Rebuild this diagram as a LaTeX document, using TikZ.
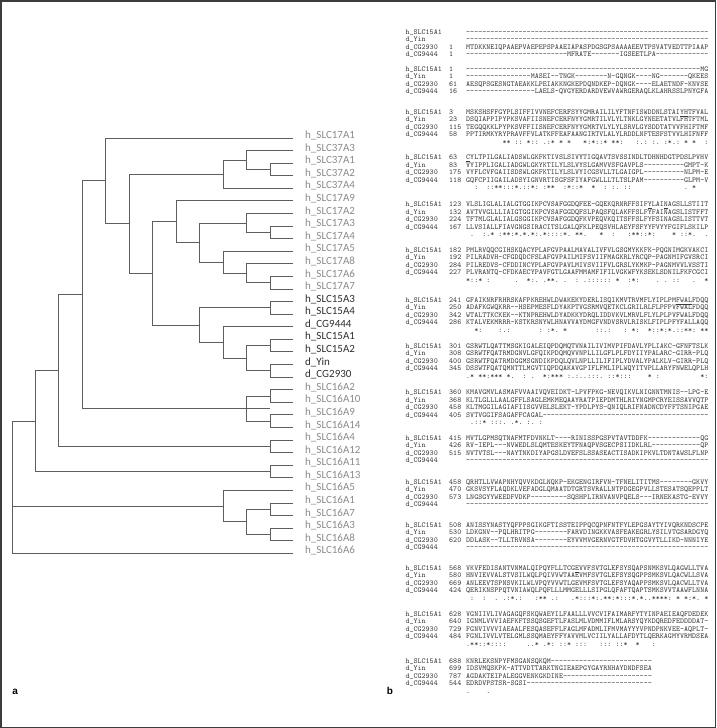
\documentclass[tikz,border=0pt]{standalone}
\usepackage{fontspec}
\newfontfamily\labfont{Carlito}
\newfontfamily\panfont{Liberation Sans}
\ExplSyntaxOn
\cs_new:Npn \dsh #1 {\prg_replicate:nn{#1}{-}}
\ExplSyntaxOff
\definecolor{framec}{HTML}{3C3C3C}
\definecolor{brc}{HTML}{5E5E5E}
\definecolor{labgray}{HTML}{8A8A8A}
\definecolor{labdark}{HTML}{2E2E2E}
\definecolor{seqc}{HTML}{3A3A3A}
\tikzset{
 br/.style={draw=brc, line width=0.9pt},
 lg/.style={anchor=base west, inner sep=0pt, font=\labfont\fontsize{11}{12}\selectfont, text=labgray},
 ld/.style={lg, text=labdark},
 nm/.style={anchor=base west, inner sep=0pt, font=\fontsize{7.6}{8}\ttfamily, text=seqc},
 sq/.style={anchor=base west, inner sep=0pt, font=\fontsize{7.6}{8}\ttfamily, text=seqc},
 pan/.style={anchor=base west, inner sep=0pt, font=\panfont\bfseries\fontsize{10}{12}\selectfont, text=black},
}
\newcommand\arow[6]{%
 \node[nm] (#1n) at (405.3,#2) {#3};
 \node[nm] (#1i) at (#4,#2) {#5};
 \node[sq] (#1s) at (466,#2) {#6};}
\begin{document}
\begin{tikzpicture}[x=1pt,y=-1pt]
\useasboundingbox (0,0) rectangle (716,728);
\draw[framec, line width=1.5pt] (0.75,0.75) rectangle (715.25,727.25);

% ---------- tree ----------
\foreach \i/\t/\s in {1/h\_SLC17A1/lg,2/h\_SLC37A3/lg,3/h\_SLC37A1/lg,4/h\_SLC37A2/lg,5/h\_SLC37A4/lg,
 6/h\_SLC17A9/lg,7/h\_SLC17A2/lg,8/h\_SLC17A3/lg,9/h\_SLC17A4/lg,10/h\_SLC17A5/lg,11/h\_SLC17A8/lg,
 12/h\_SLC17A6/lg,13/h\_SLC17A7/lg,14/h\_SLC15A3/ld,15/h\_SLC15A4/ld,16/d\_CG9444/ld,17/h\_SLC15A1/ld,
 18/h\_SLC15A2/ld,19/d\_Yin/ld,20/d\_CG2930/ld,21/h\_SLC16A2/lg,22/h\_SLC16A10/lg,23/h\_SLC16A9/lg,
 24/h\_SLC16A14/lg,25/h\_SLC16A4/lg,26/h\_SLC16A12/lg,27/h\_SLC16A11/lg,28/h\_SLC16A13/lg,
 29/h\_SLC16A5/lg,30/h\_SLC16A1/lg,31/h\_SLC16A7/lg,32/h\_SLC16A3/lg,33/h\_SLC16A8/lg,34/h\_SLC16A6/lg}{
 \coordinate (l\i) at (293.3,{138+(\i-1)*12.585});
 \node[\s] (t\i) at (305,{138.6+(\i-1)*12.585}) {\t};
}
\coordinate (R0) at (12.3,490);
\coordinate (AA) at (35,421.02);
\coordinate (Y) at (58.3,370.54);
\coordinate (X) at (82,294.75);
\coordinate (E) at (105.7,180.92);
\coordinate (D) at (129,223.84);
\coordinate (F) at (152.7,273.49);
\coordinate (G) at (176.7,221.78);
\coordinate (H) at (199.3,242.62);
\coordinate (O) at (199.3,325.21);
\coordinate (C) at (223,174.19);
\coordinate (K) at (223,262.28);
\coordinate (Q) at (223,342.51);
\coordinate (AC) at (223,506.11);
\coordinate (B) at (246.7,160.03);
\coordinate (I) at (246.7,222.95);
\coordinate (M) at (246.7,273.29);
\coordinate (R) at (246.7,358.24);
\coordinate (U) at (246.7,408.58);
\coordinate (Ux) at (270,408.58);
\coordinate (AD) at (246.7,521.84);
\coordinate (A) at (270,169.47);
\coordinate (J) at (270,232.39);
\coordinate (N) at (270,282.73);
\coordinate (P) at (270,307.90);
\coordinate (S) at (270,345.66);
\coordinate (T) at (270,370.83);
\coordinate (V) at (270,396.0);
\coordinate (W) at (270,421.17);
\coordinate (Z) at (270,446.34);
\coordinate (AB) at (270,471.5);
\coordinate (AE) at (270,509.26);
\coordinate (AF) at (270,534.43);
\foreach \p/\c in {A/l3,A/l4,B/l2,B/A,C/B,C/l5,J/l8,J/l9,I/l7,I/J,N/l12,N/l13,M/l11,M/N,
 K/l10,K/M,H/I,H/K,G/l6,G/H,P/l14,P/l15,S/l17,S/l18,T/l19,T/l20,R/S,R/T,Q/l16,Q/R,O/P,O/Q,
 F/G,F/O,D/C,D/F,E/l1,E/D,V/l21,V/l22,W/l23,W/l24,U/V,U/W,X/E,X/Ux,Z/l25,Z/l26,Y/X,Y/Z,
 AB/l27,AB/l28,AA/Y,AA/AB,AE/l30,AE/l31,AF/l32,AF/l33,AD/AE,AD/AF,AC/l29,AC/AD,
 R0/AA,R0/AC,R0/l34}{
 \draw[br] (\p) |- (\c);
}
\node[pan] (pa) at (12.3,694) {a};
\node[pan] (pb) at (386.7,694) {b};

% ---------- alignment ----------
% block 1
\arow{a1}{34.0}{h\_SLC15A1}{449}{}{\dsh{60}}
\arow{a2}{41.5}{d\_Yin}{449}{}{\dsh{60}}
\arow{a3}{49.0}{d\_CG2930}{449}{1}{MTDKKNEIQPAAEPVAEPEPSPAAEIAPASPDGSGPSAAAAEEVTPSVATVEDTTPIAAP}
\arow{a4}{56.5}{d\_CG9444}{449}{1}{\dsh{25}MFRATE\dsh{7}IGSEETLPA\dsh{13}}
% block 2
\arow{b1}{71.1}{h\_SLC15A1}{449}{1}{\dsh{58}MG}
\arow{b2}{78.6}{d\_Yin}{449}{1}{\dsh{16}MASEI\dsh{2}TNGK\dsh{8}N-GQNGK\dsh{4}NG\dsh{7}QKEES}
\arow{b3}{86.1}{d\_CG2930}{449}{61}{AESQPSGESNGTAEAKKLPEIAKKNGKEPDQNDKEP-DQNGK\dsh{4}ELAETNDF-KNVSE}
\arow{b4}{93.6}{d\_CG9444}{449}{16}{\dsh{17}LAELS-QVGYERDARDVEWVAWRGERAQLKLAHRSSLPNYGFA}
% block 3
\arow{c1}{114.3}{h\_SLC15A1}{449}{3}{MSKSHSFFG\textbf{Y}PLSIFFIVVNEFCER\textbf{F}SYYGMRAILILYFTNFISWDDNLSTAI\underline{YH}TFVAL}
\arow{c2}{121.8}{d\_Yin}{449}{23}{DSQIAPPIPYPKSVAFIISNEFCERFNYYGMRTILVLYLTNKLGYNEETATVLFHTFTML}
\arow{c3}{129.3}{d\_CG2930}{449}{115}{TEGQQKKLPYPKSVFFIISNEFCERFNYYGMRTVLYLYLSRVLGYSDDTATVVFHIFTMF}
\arow{c4}{136.8}{d\_CG9444}{449}{58}{PPTIRMKYRYPRAVFFVLATKFFEAFAANGIRTVLALYLRDDLNFTESFSTVVLHIFNFF}
\node[sq] (c5) at (466,144.3) {~~~~~~~~~**~::~*::~.:*~*~*~~~*:*::*~**:~~~:.:~:.~:*.:~*~*~~:};
% block 4
\arow{d1}{159.8}{h\_SLC15A1}{449}{63}{\underline{C}YLTPILGALIADSWLGKFKTIVSLSIV\textbf{Y}TIGQAVTSVSSINDLTDHNHDGTPDSLPVHV}
\arow{d2}{167.3}{d\_Yin}{449}{83}{VYIPPLIGALIADGWLGKYKTILYLSLVYSLGAMVVSFGAVPLS\dsh{10}GMPT-K}
\arow{d3}{174.8}{d\_CG2930}{449}{175}{VYFLCVFGAIISDSWLGKFKTILYLSLVYICGSVLLTLGAIGPL\dsh{10}NLPM-E}
\arow{d4}{182.3}{d\_CG9444}{449}{118}{GQFCPIIGAILADSYIGNVRTISGFSFIYAFGWLLLTLTSLPAM\dsh{10}GLPM-V}
\node[sq] (d5) at (466,189.8) {~~:~~::**:::*.::*:~:**~~:*::*~~*~~:~:.~::~~~~~~~~~~~~~.~*};
% block 5
\arow{e1}{206.8}{h\_SLC15A1}{449}{123}{VLSLIGLALIALGTGGIKPCVSAFGGDQFEE-GQEKQRNRFFSIF\underline{Y}LAI\underline{N}AGSLLSTIIT}
\arow{e2}{214.3}{d\_Yin}{449}{132}{AVTVVGLLLIAIGTGGIKPCVSAFGGDQFSLPAQSFQLAKFFSLFYFAINAGSLISTFFT}
\arow{e3}{221.8}{d\_CG2930}{449}{224}{TFTMLGLALIALGSGGIKPCVSAFGGDQFKVPEQVKQITSFFSLFYFSINAGSLISTTVT}
\arow{e4}{229.3}{d\_CG9444}{449}{167}{LLVSIALLFIAVGNGSIRACITSLGALQFKLPEQSVHLAEYFSFYYFVYYFGIFLSKILP}
\node[sq] (e5) at (466,236.8) {~.~~:.*~:**:*.*.*:.*::::*.~**.~~~*~~:~~~:**::*:~~~~*~::*.~~.};
% block 6
\arow{f1}{252.3}{h\_SLC15A1}{449}{182}{PMLRVQQCGIHSKQACYPLAFGVPAALMAVALIVFVLGSGMYKKFK-PQGNIMGKVAKCI}
\arow{f2}{259.8}{d\_Yin}{449}{192}{PILRADVH-CFGDQDCFSLAFGVPAILMIFSVIIFMAGKRLYRCQP-PAGNMIFGVSRCI}
\arow{f3}{267.3}{d\_CG2930}{449}{284}{PILREDVS-CFDDINCYPLAFGVPAVLMIVSVIIFVLGRSLYKMKP-PAGNMVVLVSSTI}
\arow{f4}{274.8}{d\_CG9444}{449}{227}{PLVRANTQ-CFDKAECYPAVFGTLGAAFMMAMFIFILVGKWFYKSEKLSDNILFKFCGCI}
\node[sq] (f5) at (466,282.3) {*::*~:~~~~~~.~~*:.~.**.~.~~:~.::::::~*~~:*:~~~~.~.~::~~~.~~*};
% block 7
\arow{g1}{302.3}{h\_SLC15A1}{449}{241}{GFAIKNRFRHRSKAFPKREHWLDWAKEKYDERLISQIKMVTRVMFLYIPLPM\underline{FWAL}FDQQ}
\arow{g2}{309.8}{d\_Yin}{449}{250}{ADAFKGWQKRR--HSEPMESFLDYAKPTVGSRMVQETKCLGRILRLFLPFPVFWALFDQQ}
\arow{g3}{317.3}{d\_CG2930}{449}{342}{WTALTTKCKEK--KTNPREHWLDYADKKYDRQLIDDVKVLMRVLFLYLPLPVFWALFDQQ}
\arow{g4}{324.8}{d\_CG9444}{449}{286}{KTALVEKMRRR-KSTKRSNYWLHNAVVAYDMGFVNDVSRVLRISKLFIPLPFYFALLAQQ}
\node[sq] (g5) at (466,332.3) {~~*:~~~~:.:~~~~~~~:~:*.~*~~~~~~~::.:~~~:~*:~~*::*:*.::**:~**};
% block 8
\arow{h1}{348.3}{h\_SLC15A1}{449}{301}{GSRWTLQATTMSGKIGALEIQPDQMQTVNAILIVIMVPIFDAVLYPLIAKC-GFNFTSLK}
\arow{h2}{355.8}{d\_Yin}{449}{308}{GSRWTFQATRMDGNVLGFQIKPDQMQVVNPLLILGFLPLFDYIIYPALARC-GIRR-PLQ}
\arow{h3}{363.3}{d\_CG2930}{449}{400}{GSRWTFQATRMDGGMSGNDIKPDQLQVLNPLLILIFIPLYDVALYPALKLV-GIRR-PLQ}
\arow{h4}{370.8}{d\_CG9444}{449}{345}{DSSWTFQATQMNTTLMGVTIQPDQAKAVGPIFLFMLIPLWQYITVPLLARYFNWELQPLH}
\node[sq] (h5) at (466,378.3) {.*~**:***~*.~~:~.~~*:***~:.:..:::.~::*:::~~~~*~:~~~~~~~~~~*:};
% block 9
\arow{i1}{394.8}{h\_SLC15A1}{449}{360}{KMAVGMVLASMAFVVAAIVQVEIDKT-LPVFPKG-NEVQIKVLNIGNNTMNIS--LPG-E}
\arow{i2}{402.3}{d\_Yin}{449}{368}{KLTLGLLLAALGFFLSAGLEMKMEQAAYRATPIEPDMTHLRIYNGMPCRYEISSAVVQTP}
\arow{i3}{409.8}{d\_CG2930}{449}{458}{KLTMGGILAGIAFIISGVVELSLEKT-YPDLPYS-QNIQLRIFNADNCDYFFTSNIPGAE}
\arow{i4}{417.3}{d\_CG9444}{449}{405}{SVTVGGIFSAGAFFCAGAL\dsh{41}}
\node[sq] (i5) at (466,424.8) {~.::*~:::.~.*.~:.~:};
% block 10
\arow{j1}{440.3}{h\_SLC15A1}{449}{415}{MVTLGPMSQTNAFMTFDVNKLT\dsh{4}RINISSPGSPVTAVTDDFK\dsh{13}QG}
\arow{j2}{447.8}{d\_Yin}{449}{426}{RV-IEPL\dsh{3}NVWEDLSLQMTESKEYTFNAQPVSGECPSIIDKLRL\dsh{12}QP}
\arow{j3}{455.3}{d\_CG2930}{449}{515}{NVTVTSL\dsh{3}NAYTNKDIYAPGSLDVEFSLSSASEACTISADKIPKVLTDNTAWSLFLNP}
\arow{j4}{462.8}{d\_CG9444}{449}{}{\dsh{60}}
% block 11
\arow{k1}{484.3}{h\_SLC15A1}{449}{458}{QRHTLLVWAPNHYQVVKDGLNQKP-EKGENGIRFVN-TFNELITITMS\dsh{8}GKVY}
\arow{k2}{491.8}{d\_Yin}{449}{470}{GKSVSYFLAQDKLVEFADGLQMAATDTGRTSVRALLNTPDGEGPVLLSTESATSQEPPLT}
\arow{k3}{499.3}{d\_CG2930}{449}{573}{LNGSGYYWEEDFVDKP\dsh{9}SQSHPLIRNVANVPQELS\dsh{3}IRNEKASTG-EVVY}
\arow{k4}{506.8}{d\_CG9444}{449}{}{\dsh{60}}
% block 12
\arow{m1}{527.3}{h\_SLC15A1}{449}{508}{ANISSYNASTYQFPPSGIKGFTISSTEIPPQCQPNFNTFYLEPGSAYTYIVQRKNDSCPE}
\arow{m2}{534.8}{d\_Yin}{449}{530}{LDKGNV\dsh{2}PQLHRITPG\dsh{8}FARVDINGKKVASFEAKEGRLYSILVTGSARDGYQ}
\arow{m3}{542.3}{d\_CG2930}{449}{620}{DDLASK\dsh{2}TLLTRVNSA\dsh{8}EYVVMVGERNVGTFDVHTGGVYTLLIKD-NNNIYE}
\arow{m4}{549.8}{d\_CG9444}{449}{}{\dsh{60}}
% block 13
\arow{n1}{570.3}{h\_SLC15A1}{449}{568}{VKVFEDISANTVNMALQIPQ\textbf{Y}FLLTCG\underline{E}VVFSVTGLEFSYSQAPSNMKSVLQAGWLLTVA}
\arow{n2}{577.8}{d\_Yin}{449}{580}{HNVIEVVALSTVSILWQLPQIVVWTAAEVMFSVTGLEFSYSQGPPSMKSVLQACWLLSVA}
\arow{n3}{585.3}{d\_CG2930}{449}{669}{ANLEEVTSPNSVKILWLVPQYVVWTLGEVMFSVTGLEFSYAQAPPSMKSVLQACWLLTVA}
\arow{n4}{592.8}{d\_CG9444}{449}{424}{QERIKNSPPQTVNIAWQLPQFLLLMMGELLLSIPGLQFAFTQAPTSMKSVVTAAWFLNNA}
\node[sq] (n5) at (466,600.3) {~:~~:~~.~.:*.:~~~:**~.:~~~.*:::*:.**:*:::*.*..****:~*~*:*.~*};
% block 14
\arow{o1}{616.3}{h\_SLC15A1}{449}{628}{VGNIIVLIVAGAGQFSKQWAEYILFAALLLVVCVIFAIMARFYTYINPAEIEAQFDEDEK}
\arow{o2}{623.8}{d\_Yin}{449}{640}{IGNMLVVVIAEFKFTSSQSGEFTLFASLMLVDMMIFLMLARSYQYKDQREDFEDDDDAT-}
\arow{o3}{631.3}{d\_CG2930}{449}{729}{FGNVIVVVIAEAALFESQASEFFLFAGLMFADMLIFMVMAYYYVPNDPNKVEE-AQPLT-}
\arow{o4}{638.8}{d\_CG9444}{449}{484}{FGNLIVVLVTELGMLSSQMAEYFFYAVVMLVCIILYALLAFDYTLQERKAGMYVRMDSEA}
\node[sq] (o5) at (466,646.3) {.**::*::::~~~~~..*~.*:~::*~:::~~~:::~::*~~*~~~:};
% block 15
\arow{p1}{663.3}{h\_SLC15A1}{449}{688}{KNRLEKSNPYFMSGANSQKQM\dsh{25}}
\arow{p2}{670.8}{d\_Yin}{449}{699}{IDSVMQSKPK-ATTVDTTARKTNGIEAEPGYGAYRNHAYDNDFSEA}
\arow{p3}{678.3}{d\_CG2930}{449}{787}{AGDAKTEIPALEGGVENKGKDINE\dsh{22}}
\arow{p4}{685.8}{d\_CG9444}{449}{544}{EDRDVPSTSR-SGSI\dsh{31}}
\node[sq] (p5) at (466,693.3) {.~~~~.};
\end{tikzpicture}
\end{document}
